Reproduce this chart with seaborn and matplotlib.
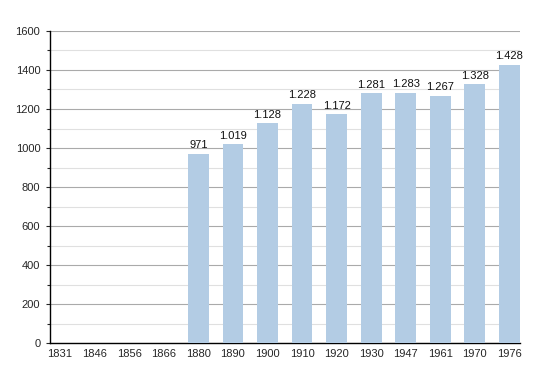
import pandas as pd
import matplotlib
matplotlib.use('Agg')
import matplotlib.pyplot as plt
import seaborn as sns
from matplotlib.ticker import MultipleLocator

# Dados da população por ano de recenseamento
anos = ['1831', '1846', '1856', '1866', '1880', '1890', '1900', '1910',
        '1920', '1930', '1947', '1961', '1970', '1976']
populacao = [0, 0, 0, 0, 971, 1019, 1128, 1228, 1172, 1281, 1283, 1267, 1328, 1428]
rotulos = ['', '', '', '', '971', '1.019', '1.128', '1.228', '1.172', '1.281',
           '1.283', '1.267', '1.328', '1.428']

df = pd.DataFrame({'Ano': anos, 'População': populacao})

sns.set_style('white')
plt.rcParams['font.family'] = ['Liberation Sans', 'DejaVu Sans']

fig = plt.figure(figsize=(5.5, 3.73), dpi=100)
ax = fig.add_axes([0.091, 0.080, 0.854, 0.837])

sns.barplot(x='Ano', y='População', data=df, color='#b3cce4', saturation=1,
            width=0.6, linewidth=0, ax=ax, zorder=3)

for i, r in enumerate(rotulos):
  if r:
    ax.text(i, populacao[i] + 18, r, ha='center', va='bottom', fontsize=8, color='#111111')

ax.set_ylim(0, 1600)
ax.set_xlim(-0.29, 13.3)
ax.yaxis.set_major_locator(MultipleLocator(200))
ax.yaxis.set_minor_locator(MultipleLocator(100))
ax.grid(axis='y', which='major', color='#aaaaaa', linewidth=0.8, zorder=0)
ax.grid(axis='y', which='minor', color='#e0e0e0', linewidth=0.8, zorder=0)
ax.set_axisbelow(True)

for s in ['top', 'right']:
  ax.spines[s].set_visible(False)
ax.spines['left'].set_color('black')
ax.spines['bottom'].set_color('black')
ax.spines['left'].set_linewidth(1.0)
ax.spines['bottom'].set_linewidth(1.0)

ax.tick_params(axis='y', which='major', left=True, length=3, width=0.8, labelsize=8, pad=4)
ax.tick_params(axis='y', which='minor', left=True, length=2, width=0.8)
ax.tick_params(axis='x', bottom=False, labelsize=8, pad=1)
ax.set_xlabel('')
ax.set_ylabel('')

fig.savefig('out.png', dpi=100)
